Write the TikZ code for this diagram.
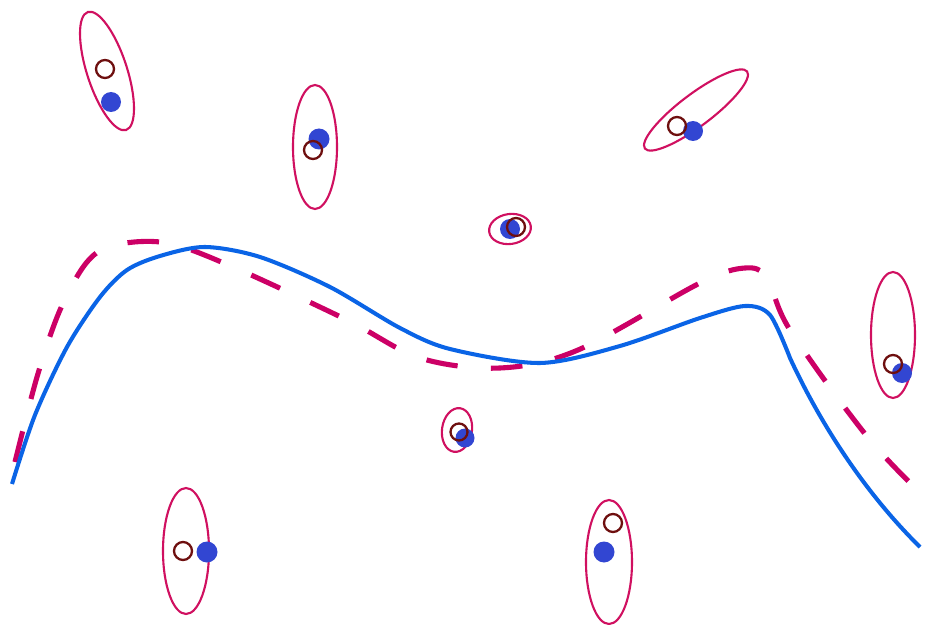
\documentclass[tikz,border=0pt]{standalone}
\definecolor{ellcol}{RGB}{208,16,96}
\definecolor{dashcol}{RGB}{204,0,102}
\definecolor{curvecol}{RGB}{10,100,230}
\definecolor{dotcol}{RGB}{50,70,210}
\definecolor{ringcol}{RGB}{110,15,15}
\tikzset{
  ell/.style={draw=ellcol, line width=1.2pt},
  ring/.style={draw=ringcol, line width=1.3pt},
  dot/.style={fill=dotcol},
  bluecurve/.style={draw=curvecol, line width=2.3pt},
  dashcurve/.style={draw=dashcol, line width=2.9pt, dash pattern=on 18pt off 19pt},
}
\begin{document}
\begin{tikzpicture}[x=0.02cm,y=-0.02cm]
\useasboundingbox (0,0) rectangle (927,625);
\clip (0,0) rectangle (927,625);
% 1
\draw[ell, rotate around={18:(107,71)}] (107,71) ellipse [x radius=20, y radius=62];
\fill[dot] (111,102) circle [radius=10];
\draw[ring] (105,69) circle [radius=9];
% 2
\draw[ell] (315,147) ellipse [x radius=22, y radius=62];
\fill[dot] (319,139) circle [radius=10.5];
\draw[ring] (313,150) circle [radius=9];
% 3
\draw[ell, rotate around={37:(696,110)}] (696,110) ellipse [x radius=64, y radius=16];
\fill[dot] (693,131) circle [radius=10];
\draw[ring] (677,126) circle [radius=9];
% 4
\draw[ell, rotate around={8:(510,229)}] (510,229) ellipse [x radius=21, y radius=15];
\fill[dot] (510,229) circle [radius=10];
\draw[ring] (516,227) circle [radius=9];
% 5
\draw[ell] (893,335) ellipse [x radius=22, y radius=63];
\fill[dot] (902,373) circle [radius=10];
\draw[ring] (893,364) circle [radius=9];
% 6
\draw[ell, rotate around={-8:(457,430)}] (457,430) ellipse [x radius=15, y radius=22];
\fill[dot] (465,438) circle [radius=9.5];
\draw[ring] (459,432) circle [radius=8.5];
% 7
\draw[ell] (186,551) ellipse [x radius=23, y radius=63];
\fill[dot] (207,552) circle [radius=10.5];
\draw[ring] (183,551) circle [radius=9];
% 8
\draw[ell] (609,562) ellipse [x radius=23, y radius=62];
\fill[dot] (604,552) circle [radius=10.5];
\draw[ring] (613,523) circle [radius=9];
% dashed curve
\draw[dashcurve] plot[smooth, tension=0.55] coordinates {
  (15,462) (37,377) (60,310) (87,262) (115,245) (167,243) (233,267)
  (347,320) (420,358) (500,368) (578,350)
  (700,283) (745,268) (767,278) (790,330) (870,440) (940,512)};
% blue curve
\draw[bluecurve] plot[smooth, tension=0.5] coordinates {
  (12,484) (35,415) (67,347) (100,297) (127,270) (160,256) (205,247)
  (260,257) (330,287) (400,328) (450,349) (540,363) (620,346) (700,318)
  (745,306) (770,315) (790,358)}
  .. controls (808,397) and (850,478) .. (920,547);
\end{tikzpicture}
\end{document}
